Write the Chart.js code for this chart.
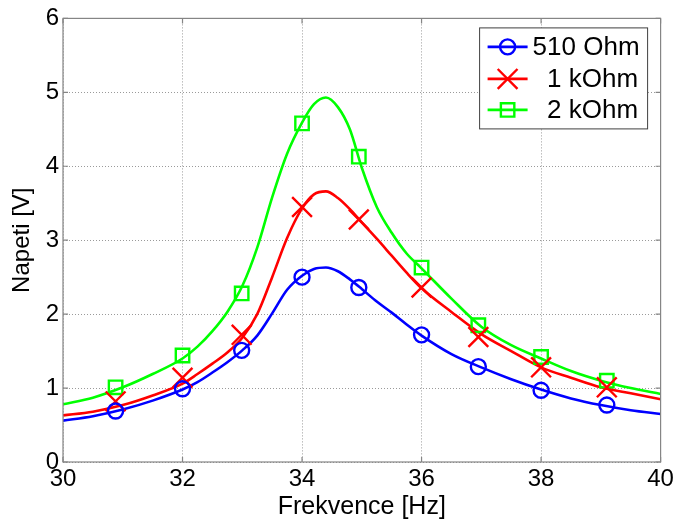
<!DOCTYPE html>
<html><head><meta charset="utf-8">
<script src="https://cdn.jsdelivr.net/npm/chart.js@4.4.1/dist/chart.umd.min.js"></script>
<style>html,body{margin:0;padding:0;background:#fff;}#wrap{width:677px;height:522px;}</style>
</head><body><div id="wrap"><canvas id="c" width="677" height="522"></canvas></div>
<script>
// fitted curves
const fitFreq = [30, 30.5, 31, 31.5, 32, 32.25, 32.5, 32.75, 33, 33.25, 33.5, 33.75, 34, 34.2, 34.4, 34.6, 34.8, 35, 35.25, 35.5, 35.75, 36, 36.5, 37, 37.5, 38, 38.5, 39, 39.5, 40];
const fit510 = [0.56, 0.62, 0.71, 0.83, 0.98, 1.08, 1.21, 1.35, 1.51, 1.71, 2.01, 2.33, 2.52, 2.61, 2.63, 2.58, 2.47, 2.34, 2.17, 2.02, 1.86, 1.71, 1.46, 1.28, 1.12, 0.98, 0.86, 0.77, 0.70, 0.65];
const fit1k  = [0.63, 0.68, 0.77, 0.90, 1.06, 1.19, 1.33, 1.48, 1.68, 2.00, 2.50, 3.03, 3.43, 3.62, 3.66, 3.57, 3.42, 3.24, 3.02, 2.79, 2.56, 2.35, 2.03, 1.73, 1.50, 1.28, 1.14, 1.01, 0.93, 0.85];
const fit2k  = [0.78, 0.87, 1.01, 1.19, 1.40, 1.56, 1.77, 2.03, 2.38, 2.90, 3.58, 4.17, 4.59, 4.84, 4.93, 4.80, 4.50, 3.98, 3.45, 3.10, 2.82, 2.62, 2.21, 1.83, 1.58, 1.40, 1.23, 1.10, 1.00, 0.92];
// measured points
const markFreq = [30.88, 32.0, 32.99, 34.0, 34.95, 36.0, 36.95, 38.0, 39.1];
const mark510 = [0.69, 0.99, 1.51, 2.50, 2.36, 1.72, 1.29, 0.97, 0.77];
const mark1k  = [0.82, 1.14, 1.72, 3.45, 3.28, 2.36, 1.69, 1.28, 1.01];
const mark2k  = [1.01, 1.44, 2.28, 4.58, 4.13, 2.63, 1.85, 1.42, 1.10];
const seriesLabels = ['510 Ohm', '  1 kOhm', '  2 kOhm'];
const xTicks = [30, 32, 34, 36, 38, 40];
const yTicks = [0, 1, 2, 3, 4, 5, 6];
const xTitle = 'Frekvence [Hz]';
const yTitle = 'Napeti [V]';

const FONT = "'Liberation Sans', Arial, sans-serif";
const colors = ['#0000ff', '#ff0000', '#00ff00'];
const styles = [
  {pointStyle: 'circle', radius: 7.5},
  {pointStyle: 'crossRot', radius: 14},
  {pointStyle: 'rect', radius: 9.5}
];
const fits = [fit510, fit1k, fit2k];
const marks = [mark510, mark1k, mark2k];

const datasets = [];
for (let i = 0; i < 3; i++) {
  datasets.push({
    label: seriesLabels[i],
    data: fitFreq.map((x, j) => ({x: x, y: fits[i][j]})),
    showLine: true, borderColor: colors[i], borderWidth: 2.6,
    pointRadius: 0, cubicInterpolationMode: 'monotone', fill: false, order: 1
  });
  datasets.push({
    label: seriesLabels[i] + ' pts',
    data: markFreq.map((x, j) => ({x: x, y: marks[i][j]})),
    showLine: false, borderColor: colors[i], backgroundColor: 'rgba(0,0,0,0)',
    pointStyle: styles[i].pointStyle, pointRadius: styles[i].radius,
    pointBorderWidth: 2.4, pointBorderColor: colors[i], pointBackgroundColor: 'rgba(0,0,0,0)',
    order: 0
  });
}

const framePlugin = {
  id: 'frame',
  afterDatasetsDraw(chart) {
    const {ctx, chartArea: a, scales} = chart;
    ctx.save();
    ctx.strokeStyle = '#858585';
    ctx.lineWidth = 1.2;
    ctx.setLineDash([]);
    ctx.strokeRect(a.left, a.top, a.right - a.left, a.bottom - a.top);
    const L = 5;
    ctx.beginPath();
    xTicks.forEach(v => {
      const px = scales.x.getPixelForValue(v);
      ctx.moveTo(px, a.bottom); ctx.lineTo(px, a.bottom - L);
      ctx.moveTo(px, a.top); ctx.lineTo(px, a.top + L);
    });
    yTicks.forEach(v => {
      const py = scales.y.getPixelForValue(v);
      ctx.moveTo(a.left, py); ctx.lineTo(a.left + L, py);
      ctx.moveTo(a.right, py); ctx.lineTo(a.right - L, py);
    });
    ctx.stroke();
    ctx.restore();
  },
  afterDraw(chart) {
    const {ctx, chartArea: a} = chart;
    ctx.save();
    const bl = a.right - 181, br = a.right - 13, bt = a.top + 9.5, bb = a.top + 110.5;
    ctx.fillStyle = '#ffffff';
    ctx.fillRect(bl, bt, br - bl, bb - bt);
    ctx.strokeStyle = '#404040';
    ctx.lineWidth = 1;
    ctx.strokeRect(bl, bt, br - bl, bb - bt);
    const rows = [a.top + 28.5, a.top + 60.5, a.top + 91.5];
    for (let i = 0; i < 3; i++) {
      const y = rows[i];
      ctx.strokeStyle = colors[i];
      ctx.lineWidth = 2.6;
      ctx.beginPath();
      ctx.moveTo(a.right - 173, y); ctx.lineTo(a.right - 133, y);
      ctx.stroke();
      ctx.fillStyle = 'rgba(0,0,0,0)';
      ctx.lineWidth = 2.4;
      Chart.helpers.drawPoint(ctx, {pointStyle: styles[i].pointStyle, radius: styles[i].radius, borderWidth: 2.4, rotation: 0}, a.right - 153, y);
      ctx.fillStyle = '#000000';
      ctx.font = '26px ' + FONT;
      ctx.textBaseline = 'middle';
      ctx.textAlign = 'left';
      ctx.fillText(seriesLabels[i], a.right - 128, y + 1);
    }
    ctx.restore();
  }
};

new Chart(document.getElementById('c'), {
  type: 'scatter',
  data: {datasets: datasets},
  options: {
    responsive: false,
    animation: false,
    devicePixelRatio: 1,
    layout: {padding: {top: 16, right: 15, left: 0, bottom: 0}},
    plugins: {legend: {display: false}, tooltip: {enabled: false}},
    scales: {
      x: {
        type: 'linear', min: 30, max: 40,
        afterBuildTicks: s => { s.ticks = xTicks.map(v => ({value: v})); },
        afterFit: s => { s.height = 60; },
        ticks: {color: '#000', font: {family: FONT, size: 24}, padding: 3, maxRotation: 0, autoSkip: false},
        grid: {color: '#9a9a9a', lineWidth: 1, drawTicks: false},
        border: {display: false, dash: [1, 2]},
        title: {display: true, text: xTitle, color: '#000', font: {family: FONT, size: 25}, padding: {top: 0, bottom: 0}}
      },
      y: {
        type: 'linear', min: 0, max: 6,
        afterBuildTicks: s => { s.ticks = yTicks.map(v => ({value: v})); },
        afterFit: s => { s.width = 63; },
        ticks: {color: '#000', font: {family: FONT, size: 24}, padding: 4, autoSkip: false},
        grid: {color: '#9a9a9a', lineWidth: 1, drawTicks: false},
        border: {display: false, dash: [1, 2]},
        title: {display: true, text: yTitle, color: '#000', font: {family: FONT, size: 24}, padding: {top: 8, bottom: 0}}
      }
    }
  },
  plugins: [framePlugin]
});
</script></body></html>
